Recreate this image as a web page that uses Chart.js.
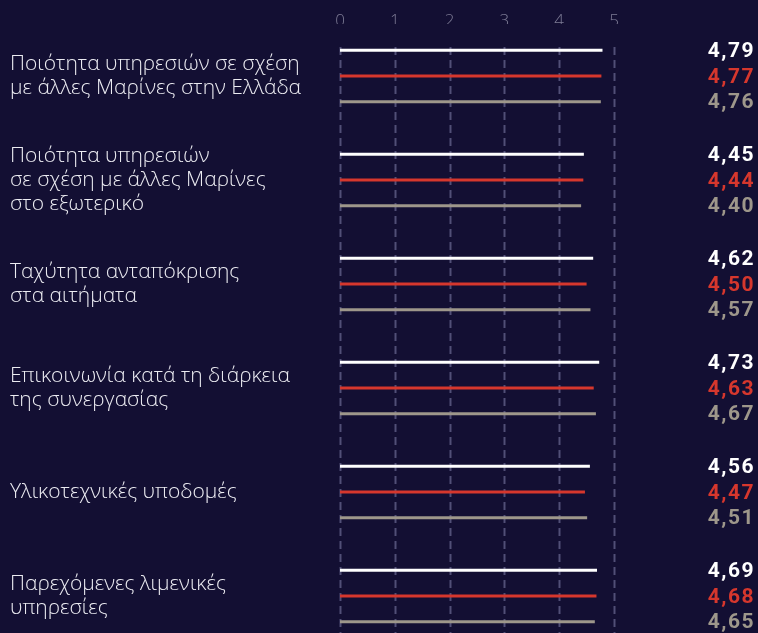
<!DOCTYPE html>
<html>
<head>
<meta charset="utf-8">
<script src="https://cdn.jsdelivr.net/npm/chart.js@4.4.1/dist/chart.umd.min.js"></script>
<style>
  html, body { margin: 0; padding: 0; background: #130f33; overflow: hidden; width: 758px; height: 633px; }
  #wrap { position: relative; width: 758px; height: 648px; }
</style>
</head>
<body>
<div id="wrap"><canvas id="c"></canvas></div>
<script>
const categories = [
  ['Ποιότητα υπηρεσιών σε σχέση', 'με άλλες Μαρίνες στην Ελλάδα'],
  ['Ποιότητα υπηρεσιών', 'σε σχέση με άλλες Μαρίνες', 'στο εξωτερικό'],
  ['Ταχύτητα ανταπόκρισης', 'στα αιτήματα'],
  ['Επικοινωνία κατά τη διάρκεια', 'της συνεργασίας'],
  ['Υλικοτεχνικές υποδομές'],
  ['Παρεχόμενες λιμενικές', 'υπηρεσίες']
];
const seriesWhite = [4.79, 4.45, 4.62, 4.73, 4.56, 4.69];
const seriesRed   = [4.77, 4.44, 4.50, 4.63, 4.47, 4.68];
const seriesGray  = [4.76, 4.40, 4.57, 4.67, 4.51, 4.65];
const xTicks = [0, 1, 2, 3, 4, 5];

const colWhite = '#ffffff', colRed = '#d6372d', colGray = '#9e978b';
const gridColor = '#514f77';

const gridPlugin = {
  id: 'dashedGrid',
  beforeDatasetsDraw(chart) {
    const ctx = chart.ctx, xs = chart.scales.x, area = chart.chartArea;
    ctx.save();
    ctx.strokeStyle = gridColor;
    ctx.lineWidth = 2;
    ctx.setLineDash([8, 5]);
    xs.ticks.forEach(t => {
      const px = Math.round(xs.getPixelForValue(t.value)) + 0.5;
      ctx.beginPath();
      ctx.moveTo(px, area.top + 23);
      ctx.lineTo(px, area.bottom);
      ctx.stroke();
    });
    ctx.restore();
  }
};

const valuePlugin = {
  id: 'valueLabels',
  afterDatasetsDraw(chart) {
    const ctx = chart.ctx;
    ctx.save();
    ctx.font = 'bold 21px "Roboto", sans-serif';
    try { ctx.letterSpacing = '1.5px'; } catch (e) {}
    ctx.textAlign = 'right';
    ctx.textBaseline = 'middle';
    chart.data.datasets.forEach((ds, di) => {
      const meta = chart.getDatasetMeta(di);
      meta.data.forEach((el, i) => {
        ctx.fillStyle = ds.labelColor;
        ctx.fillText(ds.data[i].toFixed(2).replace('.', ','), 755, el.y + 1.5);
      });
    });
    ctx.restore();
  }
};

const common = { categoryPercentage: 0.741, barPercentage: 0.117, borderWidth: 0 };

new Chart(document.getElementById('c'), {
  type: 'bar',
  data: {
    labels: categories,
    datasets: [
      Object.assign({ label: 'A', data: seriesWhite, backgroundColor: colWhite, labelColor: colWhite }, common),
      Object.assign({ label: 'B', data: seriesRed, backgroundColor: colRed, labelColor: colRed }, common),
      Object.assign({ label: 'C', data: seriesGray, backgroundColor: colGray, labelColor: colGray }, common)
    ]
  },
  options: {
    indexAxis: 'y',
    responsive: true,
    maintainAspectRatio: false,
    animation: false,
    layout: { padding: { left: 10, right: 144, top: 0, bottom: 0 } },
    plugins: { legend: { display: false }, tooltip: { enabled: false } },
    scales: {
      x: {
        position: 'top',
        min: 0, max: 5,
        afterBuildTicks: (s) => { s.ticks = xTicks.map(v => ({ value: v })); },
        afterFit: (s) => { s.height = 24; s.paddingLeft = 0; s.paddingRight = 0; },
        grid: { display: false },
        border: { display: false },
        ticks: { color: '#7e7c96', padding: -15, font: { family: 'Open Sans', size: 17, weight: 300, lineHeight: 1.2 } }
      },
      y: {
        afterFit: (s) => { s.width = 330; s.paddingTop = 0; s.paddingBottom = 0; },
        grid: { display: false },
        border: { display: false },
        ticks: {
          crossAlign: 'far',
          color: '#ececf2',
          font: { family: 'Open Sans', size: 21, weight: 300, lineHeight: 1.143 }
        }
      }
    }
  },
  plugins: [gridPlugin, valuePlugin]
});
</script>
</body>
</html>
